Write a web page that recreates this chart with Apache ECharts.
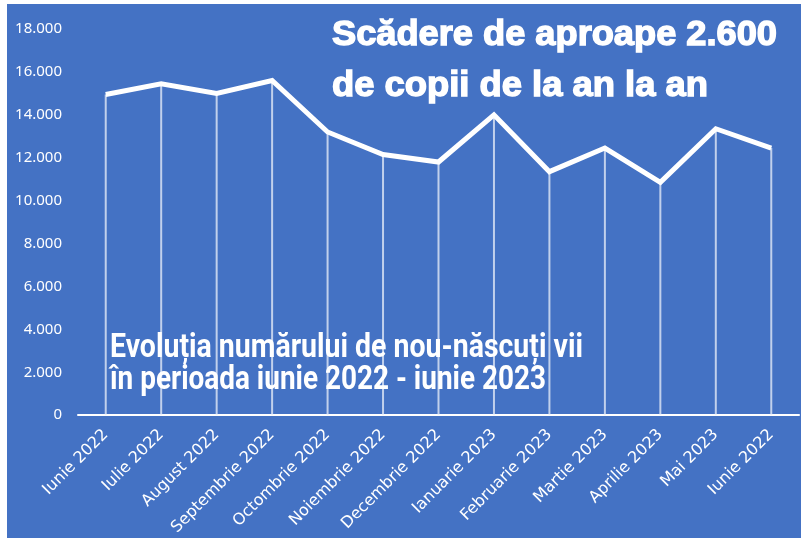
<!DOCTYPE html>
<html>
<head>
<meta charset="utf-8">
<script src="https://cdn.jsdelivr.net/npm/echarts@6/dist/echarts.min.js"></script>
<style>
  html, body { margin: 0; padding: 0; background: #fff; }
  #chart { width: 801px; height: 538px; }
</style>
</head>
<body>
<div id="chart"></div>
<script>
const luni = ['Iunie 2022', 'Iulie 2022', 'August 2022', 'Septembrie 2022', 'Octombrie 2022', 'Noiembrie 2022',
  'Decembrie 2022', 'Ianuarie 2023', 'Februarie 2023', 'Martie 2023', 'Aprilie 2023', 'Mai 2023', 'Iunie 2022']
const nascuti = [14950, 15450, 15000, 15600, 13200, 12150, 11800, 14000, 11350, 12450, 10850, 13350, 12450]
const yTicks = [0, 2000, 4000, 6000, 8000, 10000, 12000, 14000, 16000, 18000]

const BLUE = '#4472c4'

// scaleaza textul ca sa aiba latimea din poza
const ctx = document.createElement('canvas').getContext('2d')
function titlu (text, font, x, y, w, stroke) {
  ctx.font = font
  let sx = w / ctx.measureText(text).width
  return {
    type: 'text',
    x: x,
    y: y,
    scaleX: sx,
    originX: 0,
    style: {
      text: text,
      font: font,
      fill: '#fff',
      stroke: stroke ? '#fff' : null,
      lineWidth: stroke || 0,
      verticalAlign: 'middle'
    },
    z: 100
  }
}

let chart = echarts.init(document.getElementById('chart'))
chart.setOption({
  animation: false,
  backgroundColor: '#fff',
  grid: { left: 78, right: 2, top: 29, bottom: 121 },
  graphic: [
    { type: 'rect', shape: { x: 7, y: 4, width: 794, height: 534 }, style: { fill: BLUE }, z: -10 },
    titlu('Scădere de aproape 2.600', 'bold 35px "Liberation Sans"', 332, 35, 445, 1.4),
    titlu('de copii de la an la an', 'bold 35px "Liberation Sans"', 332, 86, 376, 1.4),
    titlu('Evoluția numărului de nou-născuți vii', 'bold 33px Roboto', 110, 349, 473),
    titlu('în perioada iunie 2022 - iunie 2023', 'bold 33px Roboto', 110, 381, 436)
  ],
  xAxis: {
    type: 'category',
    data: luni,
    boundaryGap: true,
    axisLine: { lineStyle: { color: '#fff', width: 2 } },
    axisTick: { show: false },
    axisLabel: {
      interval: 0,
      rotate: 45,
      margin: 17,
      color: '#fff',
      fontSize: 16,
      fontFamily: 'DejaVu Sans'
    }
  },
  yAxis: {
    type: 'value',
    min: yTicks[0],
    max: yTicks[yTicks.length - 1],
    interval: 2000,
    splitLine: { show: false },
    axisLine: { show: false },
    axisTick: { show: false },
    axisLabel: {
      margin: 16,
      color: '#fff',
      fontSize: 15,
      fontFamily: 'Noto Sans',
      verticalAlign: 'middle',
      padding: [0, 0, 14, 0],
      formatter: v => v === 0 ? '0' : (v / 1000).toFixed(3)
    }
  },
  series: [
    {
      // liniile verticale de la punct la axa
      type: 'bar',
      data: nascuti,
      barWidth: 2,
      itemStyle: { color: 'rgba(235, 240, 250, 0.75)' },
      silent: true
    },
    {
      type: 'line',
      data: nascuti,
      symbol: 'none',
      lineStyle: { color: '#fff', width: 5, join: 'miter' },
      z: 5
    }
  ]
})
</script>
</body>
</html>
